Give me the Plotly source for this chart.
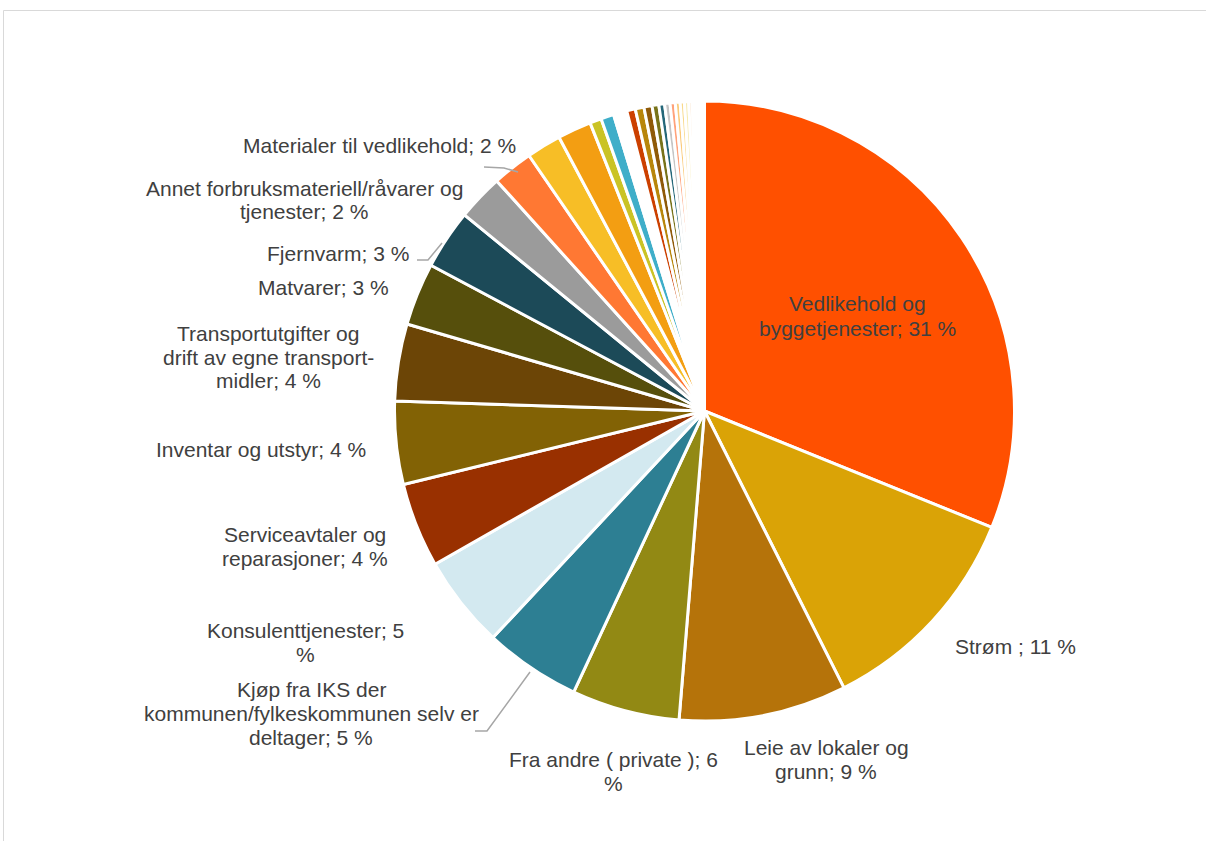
import plotly.graph_objects as go

W, H = 1206, 841

# Cost categories (share of total, %), in drawing order clockwise from 12 o'clock
categories = [
    "Vedlikehold og byggetjenester", "Strøm", "Leie av lokaler og grunn",
    "Fra andre ( private )", "Kjøp fra IKS der kommunen/fylkeskommunen selv er deltager",
    "Konsulenttjenester", "Serviceavtaler og reparasjoner", "Inventar og utstyr",
    "Transportutgifter og drift av egne transportmidler", "Matvarer", "Fjernvarm",
    "Annet forbruksmateriell/råvarer og tjenester", "Materialer til vedlikehold",
    "Kontormateriell", "Renhold", "Vann og avløp", "Forsikringer", "Avgifter",
    "Kurs og opplæring", "Telefon", "Porto", "Annonser", "Reiseutgifter",
    "Lisenser", "Bevertning", "Arbeidstøy", "Medisinsk forbruk", "Aviser",
    "Kontingenter", "Gebyrer", "Leasing", "Bøker", "Gaver", "Diverse", "Øvrig",
]
values = [
    31.0, 11.4, 8.7, 5.6, 5.0, 4.8, 4.4, 4.3, 4.0, 3.25, 3.1, 2.4, 2.1,
    1.8, 1.75, 0.6, 0.67, 0.7, 0.45, 0.45, 0.42, 0.35, 0.3, 0.28, 0.27,
    0.25, 0.22, 0.22, 0.18, 0.15, 0.12, 0.1, 0.1, 0.08, 0.08,
]
colors = [
    "#FF5000", "#DAA306", "#B5730A", "#928914", "#2D7F93", "#D3E9F0",
    "#993000", "#826205", "#6C4506", "#564F0C", "#1C4A58", "#9B9B9B",
    "#FF7833", "#F7BE26", "#F39E12", "#CAC325", "#3FAEC9", "#FFFFFF",
    "#CC4000", "#B8860B", "#8F5A09", "#78731A", "#246779", "#C5C5C5",
    "#FFA27A", "#FBCB7A", "#F9D98A", "#F7EBB0", "#FBE6D0", "#EAF3F6",
    "#FFE8DA", "#FCEFCF", "#F8E8C8", "#F0EED8", "#E6F2F5",
]

# Data labels: lines of text, centre position (px), optional leader line (px points)
label_lines = [
    ["Vedlikehold og", "byggetjenester; 31 %"],
    ["Strøm ; 11 %"],
    ["Leie av lokaler og", "grunn; 9 %"],
    ["Fra andre ( private ); 6", "%"],
    ["Kjøp fra IKS der", "kommunen/fylkeskommunen selv er", "deltager; 5 %"],
    ["Konsulenttjenester; 5", "%"],
    ["Serviceavtaler og", "reparasjoner; 4 %"],
    ["Inventar og utstyr; 4 %"],
    ["Transportutgifter og", "drift av egne transport-", "midler; 4 %"],
    ["Matvarer; 3 %"],
    ["Fjernvarm; 3 %"],
    ["Annet forbruksmateriell/råvarer og", "tjenester; 2 %"],
    ["Materialer til vedlikehold; 2 %"],
]
label_pos = [
    (857, 316), (1015, 646), (826, 759), (613, 771), (311, 713),
    (305, 642), (305, 546), (261, 449), (268, 357), (323, 288),
    (338, 253), (304, 200), (379, 145),
]
leaders = [
    [(475, 731), (487, 731), (530, 672)],
    [(417, 260), (428, 260), (442, 243)],
    [(484, 167), (504, 168), (518, 172)],
]
LINE_GAP = 24

cx, cy, r = 704.5, 411, 310


def px(x):
    return x / W


def py(y):
    return 1 - y / H


fig = go.Figure(go.Pie(
    labels=categories,
    values=values,
    sort=False,
    direction="clockwise",
    rotation=0,
    textinfo="none",
    hoverinfo="label+percent",
    marker=dict(colors=colors, line=dict(color="#FFFFFF", width=3)),
    domain=dict(x=[px(cx - r), px(cx + r)], y=[py(cy + r), py(cy - r)]),
    showlegend=False,
))

font = dict(family="Liberation Sans, Arial, sans-serif", size=21, color="#404040")
for lines, (x, y) in zip(label_lines, label_pos):
    top = y - (len(lines) - 1) * LINE_GAP / 2
    for i, line in enumerate(lines):
        fig.add_annotation(x=px(x), y=py(top + i * LINE_GAP), xref="paper", yref="paper",
                           text=line, showarrow=False, font=font,
                           xanchor="center", yanchor="middle", align="center")

for pts in leaders:
    path = "M " + " L ".join(f"{px(x)},{py(y)}" for x, y in pts)
    fig.add_shape(type="path", path=path, xref="paper", yref="paper",
                  line=dict(color="#A6A6A6", width=1.5))

# chart area frame
fig.add_shape(type="rect", xref="paper", yref="paper",
              x0=px(3.5), y0=-0.02, x1=1.02, y1=py(10.5),
              line=dict(color="#D9D9D9", width=1), fillcolor="rgba(0,0,0,0)")

fig.update_layout(
    width=W, height=H,
    margin=dict(l=0, r=0, t=0, b=0),
    paper_bgcolor="#FFFFFF",
    plot_bgcolor="#FFFFFF",
)

fig.write_html("out.html")
